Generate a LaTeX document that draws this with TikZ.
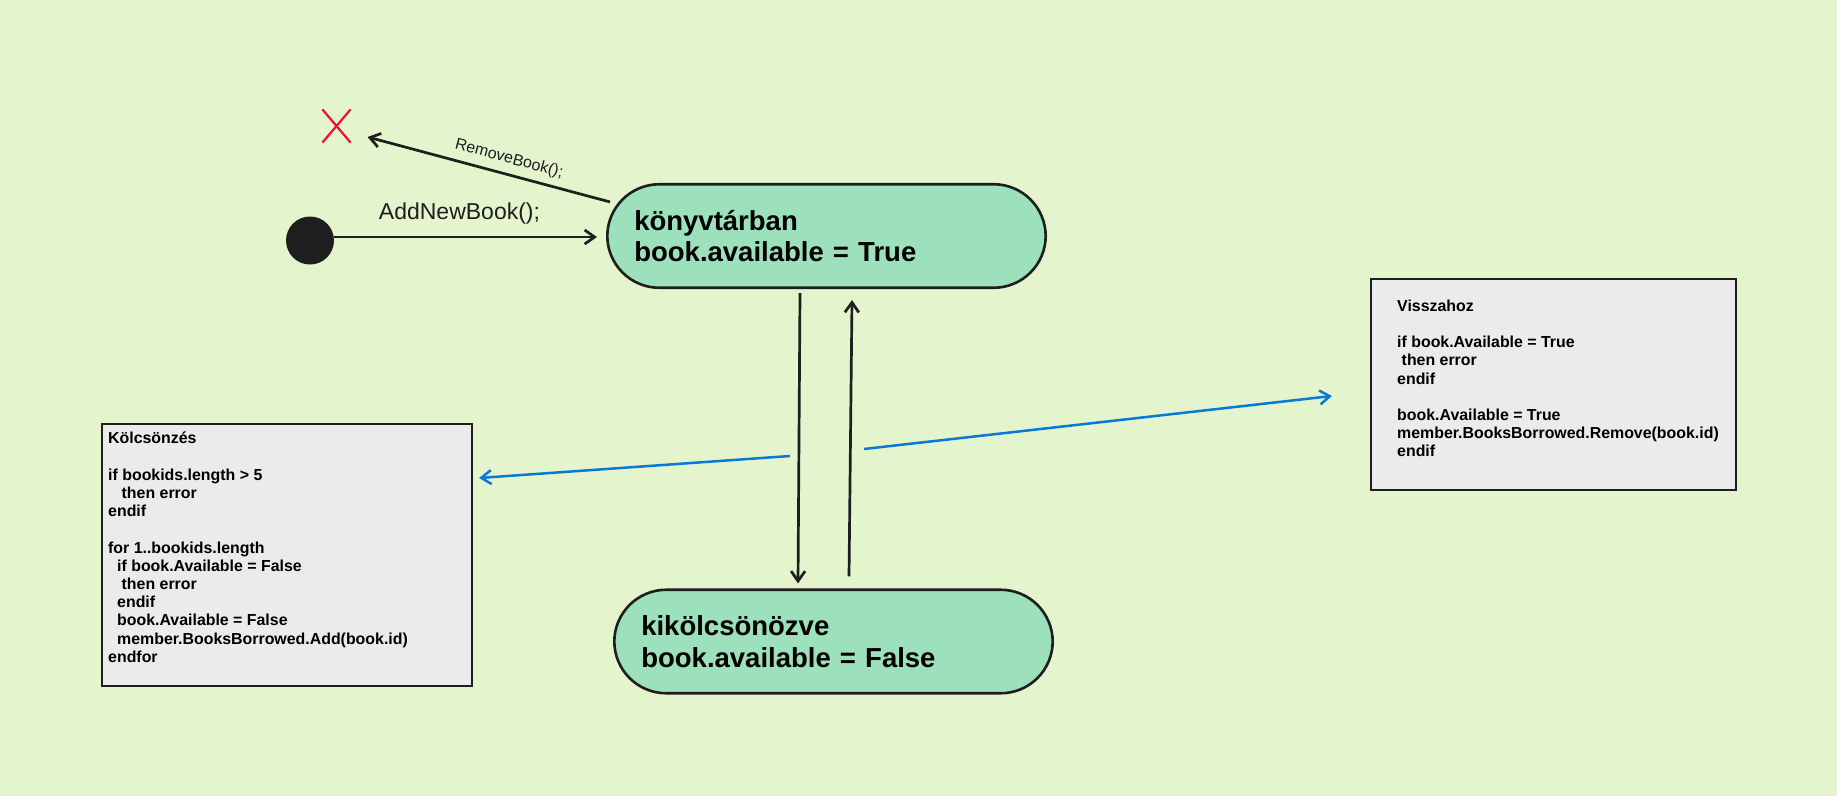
\documentclass[tikz,border=0pt]{standalone}
\usepackage{fontspec}
\setmainfont{Liberation Sans}
\usetikzlibrary{arrows.meta,shapes.misc}
\definecolor{bgc}{HTML}{E4F4CD}
\definecolor{statefill}{HTML}{9CE0BC}
\definecolor{ink}{HTML}{1E1E1E}
\definecolor{notefill}{HTML}{EBEBEB}
\definecolor{noteblue}{HTML}{0A78D6}
\definecolor{xred}{HTML}{E8132F}
\begin{document}
\begin{tikzpicture}[x=1pt,y=-1pt,
  stateshape/.style={draw=ink, line width=2.6pt, fill=statefill, rounded corners=52pt,
    minimum width=438.4pt, minimum height=103.5pt, text width=384.4pt, inner xsep=27pt,
    inner ysep=0pt, align=left, font=\bfseries\fontsize{27.5}{31.5}\selectfont},
  notebox/.style={draw=ink, line width=2.2pt, fill=notefill, inner sep=0pt},
  notetext/.style={inner sep=0pt, align=left, anchor=north west,
    font=\bfseries\fontsize{15.9}{18.2}\selectfont},
  flow/.style={draw=ink, line width=2.7pt, -{Straight Barb[length=10pt,width=14pt]}},
  noteline/.style={draw=noteblue, line width=2.5pt, -{Straight Barb[length=10pt,width=14pt]}},
  lbl/.style={inner sep=0pt, text=ink}
]
\fill[bgc] (0,0) rectangle (1837,796);

% states
\node[stateshape] (s1) at (826.5,236) {könyvtárban\\book.available = True};
\node[stateshape] (s2) at (833.5,641.5) {kikölcsönözve\\book.available = False};

% initial and final
\node[circle, fill=ink, minimum size=48pt, inner sep=0pt] (init) at (310,240.5) {};
\node[draw=xred, cross out, line width=2.2pt, minimum width=26pt, minimum height=31pt, inner sep=0pt] (xend) at (336.5,126) {};

% note boxes
\node[notebox, minimum width=370pt, minimum height=262pt] (kol) at (287,555) {};
\node[notebox, minimum width=365pt, minimum height=211pt] (vis) at (1553.5,384.5) {};

\node[notetext] (koltext) at (108,432) {Kölcsönzés\\
\mbox{}\\
if bookids.length > 5\\
\hspace*{13.5pt}then error\\
endif\\
\mbox{}\\
for 1..bookids.length\\
\hspace*{9pt}if book.Available = False\\
\hspace*{13.5pt}then error\\
\hspace*{9pt}endif\\
\hspace*{9pt}book.Available = False\\
\hspace*{9pt}member.BooksBorrowed.Add(book.id)\\
endfor};

\node[notetext] (vistext) at (1397,299.5) {Visszahoz\\
\mbox{}\\
if book.Available = True\\
\hspace*{4.5pt}then error\\
endif\\
\mbox{}\\
book.Available = True\\
member.BooksBorrowed.Remove(book.id)\\
endif};

% transitions
\draw[flow] ([shift={(0,-3.5)}]init.east) -- ([shift={(-9,1)}]s1.west);
\node[lbl, font=\fontsize{23}{27}\selectfont] (addlbl) at (459.5,213.5) {AddNewBook();};

\draw[flow] ([shift={(4,19)}]s1.north west) -- ([shift={(17,11)}]xend.east);
\node[lbl, rotate=-15, font=\fontsize{16}{19}\selectfont] (remlbl) at (509,159) {RemoveBook();};

\draw[flow] ([shift={(-26.5,4)}]s1.south) -- ([shift={(-35.5,-5)}]s2.north);
\draw[flow] ([shift={(15.5,-12)}]s2.north) -- ([shift={(25.5,11)}]s1.south);

% note connectors
\coordinate (b1s) at (790,456);
\coordinate (b2s) at (864,449);
\draw[noteline] (b1s) -- ([shift={(6,-77)}]kol.east);
\draw[noteline] (b2s) -- ([shift={(-38,11.5)}]vis.west);
\end{tikzpicture}
\end{document}
